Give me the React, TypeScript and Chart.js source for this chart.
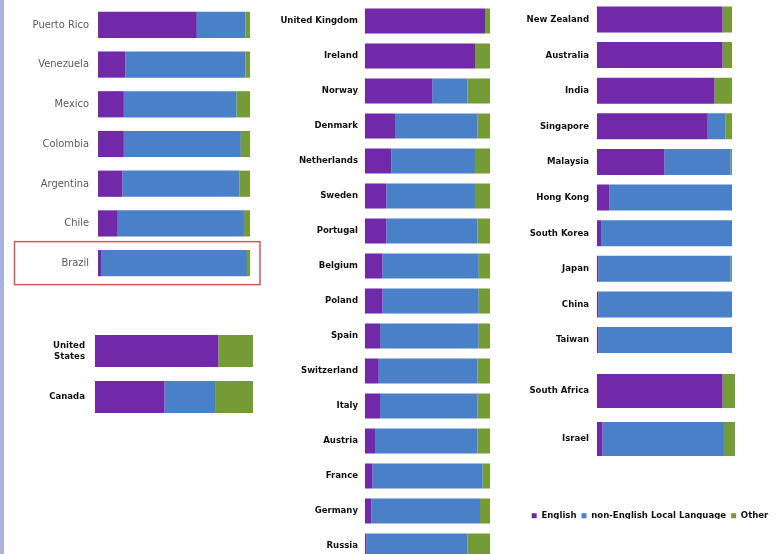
import React, { useEffect, useRef } from "react";
import { Chart, registerables } from "chart.js";

Chart.register(...registerables);

const SERIES = ["English", "non-English Local Language", "Other"];
const COLORS = ["#7229a9", "#4a80c8", "#749b36"];

const latamCountries = ["Puerto Rico", "Venezuela", "Mexico", "Colombia", "Argentina", "Chile", "Brazil"];
const latamEnglish = [65, 18, 17, 17, 16, 13, 2];
const latamLocal = [32, 79, 74, 77, 77, 83, 96];
const latamOther = [3, 3, 9, 6, 7, 4, 2];

const naCountries = [["United", "States"], "Canada"];
const naEnglish = [78, 44];
const naLocal = [0, 32];
const naOther = [22, 24];

const euCountries = [
  "United Kingdom", "Ireland", "Norway", "Denmark", "Netherlands", "Sweden", "Portugal", "Belgium",
  "Poland", "Spain", "Switzerland", "Italy", "Austria", "France", "Germany", "Russia",
];
const euEnglish = [96, 88, 54, 24, 21, 17, 17, 14, 14, 12, 11, 12, 8, 6, 5, 1];
const euLocal = [0, 0, 28, 66, 67, 71, 73, 77, 77, 79, 79, 78, 82, 88, 87, 81];
const euOther = [4, 12, 18, 10, 12, 12, 10, 9, 9, 9, 10, 10, 10, 6, 8, 18];

const apCountries = [
  "New Zealand", "Australia", "India", "Singapore", "Malaysia", "Hong Kong", "South Korea", "Japan", "China", "Taiwan",
];
const apEnglish = [93, 93, 87, 82, 50, 9, 3, 1, 1, 1];
const apLocal = [0, 0, 0, 13, 49, 91, 97, 98, 99, 99];
const apOther = [7, 7, 13, 5, 1, 0, 0, 1, 0, 0];

const meCountries = ["South Africa", "Israel"];
const meEnglish = [91, 4];
const meLocal = [0, 88];
const meOther = [9, 8];

const FONT = '"Liberation Sans Narrow", "DejaVu Sans Condensed", "Arial Narrow", sans-serif';

type PanelProps = {
  labels: any[];
  english: number[];
  local: number[];
  other: number[];
  left: number;
  top: number;
  width: number;
  height: number;
  axisWidth: number;
  pad: { top: number; bottom: number; right: number };
  tickPad: number;
  barPct: number;
  fontSize: number;
  bold: boolean;
  color: string;
  highlight?: number;
};

function makeHighlight(index: number) {
  return {
    id: "highlightRow",
    afterDraw(chart: any) {
      const ctx = chart.ctx;
      const y = chart.scales.y.getPixelForValue(index);
      const { right } = chart.chartArea;
      ctx.save();
      ctx.strokeStyle = "#d25a55";
      ctx.lineWidth = 1.5;
      ctx.strokeRect(14.5, y - 21.5, right + 10 - 14.5, 43);
      ctx.restore();
    },
  };
}

function Panel(p: PanelProps) {
  const ref = useRef<HTMLCanvasElement>(null);
  useEffect(() => {
    const values = [p.english, p.local, p.other];
    const chart = new Chart(ref.current as HTMLCanvasElement, {
      type: "bar",
      data: {
        labels: p.labels,
        datasets: values.map((d, i) => ({
          label: SERIES[i],
          data: d,
          backgroundColor: COLORS[i],
          borderWidth: 0,
          categoryPercentage: 1,
          barPercentage: p.barPct,
        })),
      },
      options: {
        indexAxis: "y",
        responsive: false,
        animation: false,
        layout: { padding: { top: p.pad.top, bottom: p.pad.bottom, right: p.pad.right, left: 0 } },
        plugins: { legend: { display: false }, tooltip: { enabled: false } },
        scales: {
          x: { stacked: true, min: 0, max: 100, display: false },
          y: {
            stacked: true,
            grid: { display: false, drawTicks: false },
            border: { display: false },
            ticks: {
              padding: p.tickPad,
              color: p.color,
              autoSkip: false,
              font: { family: FONT, size: p.fontSize, weight: p.bold ? "bold" : "normal" },
            },
            afterFit: (s: any) => {
              s.width = p.axisWidth;
              s.paddingTop = 0;
              s.paddingBottom = 0;
              s.paddingLeft = 0;
              s.paddingRight = 0;
            },
          },
        },
      } as any,
      plugins: p.highlight !== undefined ? [makeHighlight(p.highlight)] : [],
    });
    return () => chart.destroy();
  }, []);
  return (
    <canvas
      ref={ref}
      width={p.width}
      height={p.height}
      style={{ position: "absolute", left: p.left, top: p.top, width: p.width, height: p.height }}
    />
  );
}

function Legend() {
  const ref = useRef<HTMLCanvasElement>(null);
  useEffect(() => {
    const chart = new Chart(ref.current as HTMLCanvasElement, {
      type: "bar",
      data: {
        labels: [],
        datasets: SERIES.map((s, i) => ({ label: s, data: [], backgroundColor: COLORS[i] })),
      },
      options: {
        responsive: false,
        animation: false,
        layout: { padding: 0 },
        plugins: {
          tooltip: { enabled: false },
          legend: {
            display: true,
            position: "top",
            labels: {
              boxWidth: 5,
              boxHeight: 5,
              padding: 5,
              color: "#111",
              font: { family: FONT, size: 9.5, weight: "bold" },
            },
          },
        },
        scales: { x: { display: false }, y: { display: false } },
      } as any,
    });
    return () => chart.destroy();
  }, []);
  return (
    <canvas ref={ref} width={260} height={26} style={{ position: "absolute", left: 520, top: 506, width: 260, height: 26 }} />
  );
}

export default function App() {
  return (
    <div style={{ position: "fixed", left: 0, top: 0, width: 780, height: 554, overflow: "hidden", background: "#ffffff" }}>
      <div style={{ position: "absolute", left: 0, top: 0, width: 4, height: 554, background: "#a9b2dc" }} />
      <Panel
        labels={latamCountries}
        english={latamEnglish}
        local={latamLocal}
        other={latamOther}
        left={0}
        top={0}
        width={265}
        height={290}
        axisWidth={98}
        pad={{ top: 5, bottom: 7, right: 15 }}
        tickPad={9}
        barPct={0.66}
        fontSize={11}
        bold={false}
        color="#5a5a5a"
        highlight={6}
      />
      <Panel
        labels={naCountries}
        english={naEnglish}
        local={naLocal}
        other={naOther}
        left={0}
        top={320}
        width={260}
        height={110}
        axisWidth={95}
        pad={{ top: 8, bottom: 10, right: 7 }}
        tickPad={10}
        barPct={0.7}
        fontSize={9.5}
        bold={true}
        color="#111111"
      />
      <Panel
        labels={euCountries}
        english={euEnglish}
        local={euLocal}
        other={euOther}
        left={270}
        top={0}
        width={220}
        height={566}
        axisWidth={95}
        pad={{ top: 3.5, bottom: 2.5, right: 0 }}
        tickPad={7}
        barPct={0.72}
        fontSize={9.5}
        bold={true}
        color="#111111"
      />
      <Panel
        labels={apCountries}
        english={apEnglish}
        local={apLocal}
        other={apOther}
        left={510}
        top={0}
        width={222}
        height={360}
        axisWidth={87}
        pad={{ top: 1.7, bottom: 2.2, right: 0 }}
        tickPad={8}
        barPct={0.73}
        fontSize={9.5}
        bold={true}
        color="#111111"
      />
      <Panel
        labels={meCountries}
        english={meEnglish}
        local={meLocal}
        other={meOther}
        left={510}
        top={360}
        width={225}
        height={110}
        axisWidth={87}
        pad={{ top: 7, bottom: 7, right: 0 }}
        tickPad={8}
        barPct={0.71}
        fontSize={9.5}
        bold={true}
        color="#111111"
      />
      <Legend />
    </div>
  );
}
